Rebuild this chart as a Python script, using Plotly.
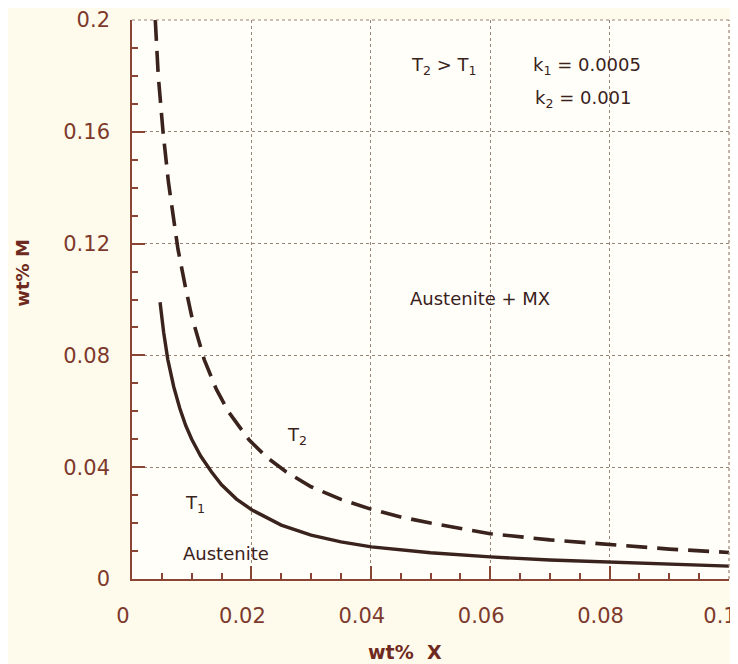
import plotly.graph_objects as go

# ---- data ----
x_t1 = [0.0047, 0.0053, 0.0060, 0.0070, 0.0080, 0.0090, 0.0100, 0.0115, 0.0133, 0.0150,
        0.0175, 0.0201, 0.0250, 0.0300, 0.0350, 0.0401, 0.0500, 0.0600, 0.0700, 0.0800,
        0.0900, 0.1000]
m_t1 = [0.0990, 0.0883, 0.0785, 0.0687, 0.0611, 0.0549, 0.0500, 0.0440, 0.0384, 0.0337,
        0.0286, 0.0247, 0.0193, 0.0157, 0.0133, 0.0115, 0.0094, 0.0079, 0.0068, 0.0060,
        0.0052, 0.0046]
x_t2 = [0.0039, 0.0044, 0.0052, 0.0061, 0.0069, 0.0077, 0.0089, 0.0100, 0.0121, 0.0141,
        0.0161, 0.0196, 0.0226, 0.0258, 0.0300, 0.0350, 0.0400, 0.0450, 0.0500, 0.0600,
        0.0700, 0.0800, 0.0900, 0.1000]
m_t2 = [0.2000, 0.1800, 0.1600, 0.1420, 0.1300, 0.1180, 0.1050, 0.0940, 0.0785, 0.0680,
        0.0600, 0.0498, 0.0435, 0.0384, 0.0330, 0.0285, 0.0250, 0.0222, 0.0200, 0.0162,
        0.0140, 0.0122, 0.0107, 0.0095]
x_ticks = [0, 0.02, 0.04, 0.06, 0.08, 0.1]
x_tick_text = ["0", "0.02", "0.04", "0.06", "0.08", "0.1"]
y_ticks = [0, 0.04, 0.08, 0.12, 0.16, 0.2]
y_tick_text = ["0", "0.04", "0.08", "0.12", "0.16", "0.2"]

line_col = "#3a221d"
axis_col = "#8a4535"
txt_col = "#7d3a2c"
title_col = "#6e2a20"
grid_col = "#9a8478"
font = "DejaVu Sans, Verdana, sans-serif"

fig = go.Figure()
fig.add_trace(go.Scatter(x=x_t1, y=m_t1, mode="lines", line=dict(color=line_col, width=3.4),
                         showlegend=False, name="T1"))
fig.add_trace(go.Scatter(x=x_t2, y=m_t2, mode="lines",
                         line=dict(color=line_col, width=3.6, dash="21px,10px"),
                         showlegend=False, name="T2"))

# dotted top and right borders
fig.add_shape(type="line", xref="paper", yref="paper", x0=0, x1=1, y0=1, y1=1,
              line=dict(color=grid_col, width=1.2, dash="dot"))
fig.add_shape(type="line", xref="paper", yref="paper", x0=1, x1=1, y0=0, y1=1,
              line=dict(color=grid_col, width=1.2, dash="dot"))

ann_font = dict(family=font, size=18, color=line_col)
anns = [
    (0.0522, 0.1835, "T<sub>2</sub> > T<sub>1</sub>"),
    (0.0762, 0.1835, "k<sub>1</sub>&nbsp;=&nbsp;0.0005"),
    (0.0757, 0.1717, "k<sub>2</sub>&nbsp;=&nbsp;0.001"),
    (0.0583, 0.1004, "Austenite + MX"),
    (0.0276, 0.0510, "T<sub>2</sub>"),
    (0.0106, 0.0270, "T<sub>1</sub>"),
    (0.0157, 0.0093, "Austenite"),
]
for ax_, ay_, t in anns:
    fig.add_annotation(x=ax_, y=ay_, text=t, showarrow=False, font=ann_font)

# axis titles
fig.add_annotation(xref="paper", yref="paper", x=-0.1826, y=0.548, text="<b>wt% M</b>",
                   textangle=-90, showarrow=False, xanchor="center", yanchor="middle",
                   font=dict(family=font, size=18, color=title_col))
fig.add_annotation(xref="paper", yref="paper", x=0.457, y=-0.131, text="<b>wt%  X</b>",
                   showarrow=False, xanchor="center", yanchor="middle",
                   font=dict(family=font, size=19, color=title_col))

fig.update_xaxes(range=[0, 0.1], tickvals=x_ticks, ticktext=x_tick_text,
                 ticks="inside", ticklen=13, tickwidth=1.5, tickcolor=axis_col,
                 minor=dict(dtick=0.005, ticks="inside", ticklen=6, tickcolor=axis_col, showgrid=False),
                 showline=True, linecolor=axis_col, linewidth=1.6,
                 showgrid=True, gridcolor=grid_col, griddash="dot", gridwidth=1.2,
                 zeroline=False, ticklabelstandoff=17, ticklabelshift=-9,
                 automargin=False, ticklabeloverflow="allow",
                 tickfont=dict(family=font, size=21, color=txt_col))
fig.update_yaxes(range=[0, 0.2], tickvals=y_ticks, ticktext=y_tick_text,
                 ticks="inside", ticklen=13, tickwidth=1.5, tickcolor=axis_col,
                 minor=dict(dtick=0.01, ticks="inside", ticklen=6, tickcolor=axis_col, showgrid=False),
                 showline=True, linecolor=axis_col, linewidth=1.6,
                 showgrid=True, gridcolor=grid_col, griddash="dot", gridwidth=1.2,
                 zeroline=False, ticklabelstandoff=16,
                 automargin=False, ticklabeloverflow="allow",
                 tickfont=dict(family=font, size=21, color=txt_col))

# the page body has an 8px margin, so the figure is sized to fit inside the window
fig.update_layout(width=730, height=656, margin=dict(l=124, r=9, t=12, b=85),
                  plot_bgcolor="#fffef8", paper_bgcolor="#fefbec", font=dict(family=font))
fig.write_html("out.html")
